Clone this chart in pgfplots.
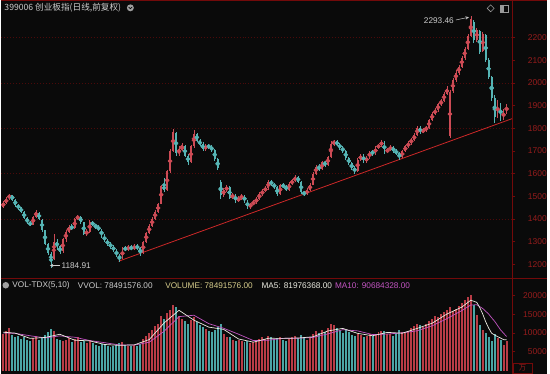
\documentclass[border=0pt]{standalone}
\usepackage{fontspec}
\setmainfont{Liberation Sans}
\newfontfamily\cjk{Noto Sans CJK SC}
\usepackage{pgfplots}
\usepackage{pgfplotstable}
\pgfplotsset{compat=1.18}
\definecolor{bg}{RGB}{10,10,10}
\definecolor{frame}{RGB}{115,10,10}
\definecolor{axred}{RGB}{150,28,28}
\definecolor{gridred}{RGB}{75,10,10}
\definecolor{upc}{RGB}{205,75,85}
\definecolor{dnc}{RGB}{85,180,180}
\definecolor{vupc}{RGB}{185,60,70}
\definecolor{vdnc}{RGB}{75,165,165}
\definecolor{trend}{RGB}{205,40,40}
\definecolor{txt}{RGB}{205,205,205}
\definecolor{volc}{RGB}{215,205,140}
\definecolor{ma5c}{RGB}{235,235,225}
\definecolor{ma10c}{RGB}{195,85,195}

\pgfplotstableread{
i o h l c v
0 1455 1478 1450 1470 9800
1 1470 1495 1465 1490 10500
2 1492 1512 1485 1505 11200
3 1505 1508 1480 1485 9500
4 1485 1490 1455 1460 8800
5 1460 1468 1442 1450 9200
6 1452 1455 1425 1430 8500
7 1430 1435 1400 1405 9000
8 1405 1410 1378 1385 8200
9 1383 1392 1368 1375 7900
10 1375 1415 1372 1410 8600
11 1410 1440 1405 1430 9100
12 1428 1432 1395 1400 8000
13 1398 1402 1345 1350 8800
14 1350 1352 1285 1290 9500
15 1290 1295 1240 1250 10200
16 1248 1255 1185 1215 11000
17 1225 1335 1220 1300 10400
18 1300 1310 1265 1280 8500
19 1280 1285 1245 1255 8200
20 1258 1315 1252 1310 7800
21 1310 1350 1300 1345 8200
22 1345 1372 1338 1365 8600
23 1365 1378 1350 1360 7500
24 1360 1405 1355 1400 8300
25 1400 1420 1395 1410 8900
26 1410 1415 1380 1385 7600
27 1385 1388 1328 1335 7800
28 1335 1355 1325 1345 7200
29 1345 1395 1340 1385 8000
30 1385 1392 1368 1375 7400
31 1375 1380 1355 1365 6900
32 1365 1372 1348 1355 6600
33 1355 1358 1318 1325 7000
34 1325 1332 1300 1305 6800
35 1305 1312 1282 1290 6500
36 1290 1298 1270 1280 6300
37 1280 1285 1255 1262 6600
38 1262 1268 1232 1240 6900
39 1240 1245 1212 1225 7200
40 1225 1278 1222 1272 7500
41 1272 1282 1258 1265 6800
42 1265 1285 1260 1278 6400
43 1278 1284 1262 1268 6600
44 1268 1290 1262 1282 6900
45 1282 1288 1265 1272 6500
46 1272 1276 1238 1250 7000
47 1250 1305 1248 1300 8400
48 1300 1345 1295 1338 9200
49 1338 1378 1332 1370 10100
50 1370 1408 1365 1402 10800
51 1402 1440 1395 1432 11800
52 1432 1470 1428 1465 12500
53 1468 1552 1465 1545 14500
54 1545 1580 1520 1530 13800
55 1530 1618 1525 1610 15200
56 1610 1708 1605 1700 16200
57 1700 1795 1695 1785 17500
58 1780 1785 1680 1690 16800
59 1690 1720 1680 1705 14500
60 1705 1735 1700 1720 13800
61 1720 1725 1672 1680 13200
62 1680 1688 1640 1650 12400
63 1650 1728 1645 1720 13500
64 1720 1792 1715 1775 14200
65 1775 1780 1738 1745 12800
66 1745 1752 1720 1730 12000
67 1730 1738 1700 1710 11500
68 1710 1730 1702 1722 11000
69 1722 1732 1708 1718 10500
70 1718 1725 1695 1705 10200
71 1705 1710 1655 1665 10800
72 1665 1670 1615 1625 11500
73 1565 1570 1490 1505 12500
74 1505 1538 1498 1530 9800
75 1530 1548 1520 1540 9000
76 1540 1545 1488 1495 8800
77 1495 1515 1488 1505 8200
78 1505 1510 1472 1480 7900
79 1480 1500 1475 1492 8100
80 1492 1510 1485 1500 7800
81 1500 1505 1472 1480 7500
82 1480 1485 1445 1452 7800
83 1452 1472 1445 1466 7200
84 1466 1482 1460 1475 7500
85 1475 1496 1468 1490 8000
86 1490 1518 1485 1510 8400
87 1510 1532 1500 1525 8800
88 1525 1545 1518 1535 8500
89 1535 1572 1530 1565 9200
90 1565 1572 1545 1555 8900
91 1555 1560 1532 1540 8300
92 1540 1545 1502 1510 8600
93 1510 1556 1505 1550 8800
94 1550 1558 1535 1545 8200
95 1545 1550 1522 1530 7900
96 1530 1562 1525 1555 8500
97 1555 1578 1548 1570 8900
98 1570 1592 1562 1585 9300
99 1585 1590 1558 1565 8700
100 1565 1568 1510 1518 9400
101 1518 1525 1500 1510 8600
102 1510 1535 1505 1528 8200
103 1528 1558 1522 1552 8900
104 1552 1606 1548 1600 9800
105 1600 1638 1595 1630 10500
106 1630 1642 1612 1620 10000
107 1620 1656 1615 1650 10800
108 1650 1658 1630 1640 10200
109 1640 1680 1635 1672 11200
110 1672 1745 1668 1730 12400
111 1730 1750 1722 1742 12000
112 1742 1748 1720 1728 11200
113 1728 1735 1705 1715 10500
114 1715 1722 1690 1700 10000
115 1700 1705 1660 1668 10800
116 1668 1675 1638 1645 10200
117 1645 1650 1615 1625 9500
118 1625 1632 1600 1612 9200
119 1612 1668 1608 1662 9800
120 1662 1688 1655 1680 9500
121 1680 1685 1648 1655 8800
122 1655 1678 1648 1670 9100
123 1670 1702 1665 1695 9600
124 1695 1705 1680 1688 9300
125 1688 1722 1682 1715 9800
126 1715 1732 1708 1725 10200
127 1725 1748 1718 1740 10600
128 1740 1745 1688 1695 10400
129 1695 1715 1690 1706 9800
130 1706 1725 1700 1716 9600
131 1716 1722 1692 1700 9200
132 1700 1708 1682 1690 9900
133 1690 1695 1662 1672 10800
134 1672 1706 1668 1700 10200
135 1700 1726 1695 1720 10000
136 1720 1742 1712 1735 10600
137 1735 1758 1728 1750 11200
138 1750 1778 1742 1770 11800
139 1770 1810 1765 1802 12500
140 1802 1808 1775 1785 12000
141 1785 1800 1778 1792 11600
142 1792 1812 1785 1802 12400
143 1802 1842 1798 1836 13200
144 1836 1872 1830 1865 13800
145 1865 1888 1858 1880 14500
146 1880 1912 1872 1905 14200
147 1905 1930 1898 1920 15000
148 1920 1960 1915 1952 15600
149 1952 1985 1945 1975 16000
150 1765 1968 1758 1960 17000
151 1962 2020 1955 2012 15800
152 2012 2055 2005 2045 16500
153 2045 2080 2035 2072 17200
154 2072 2118 2065 2110 18000
155 2110 2160 2100 2150 18800
156 2150 2215 2145 2205 19500
157 2205 2293 2200 2280 20200
158 2270 2278 2175 2190 17500
159 2190 2242 2180 2232 14800
160 2230 2235 2125 2135 12000
161 2140 2222 2135 2215 10800
162 2210 2215 2090 2100 9900
163 2100 2110 2015 2025 9000
164 2025 2030 1920 1935 7990
165 1935 1945 1825 1850 9600
166 1855 1925 1845 1910 8700
167 1905 1912 1830 1842 8000
168 1842 1885 1835 1875 6840
169 1875 1905 1865 1895 7849
}\candles

\pgfplotstableread{
i m
0 10200
4 9960
9 8560
14 8800
19 9660
24 8080
29 7900
34 6940
39 6700
44 6840
49 8240
54 12680
59 16040
64 13420
69 11560
74 10960
79 8400
84 7560
89 8580
94 8560
99 8660
104 8980
109 10540
114 11220
119 9900
124 9260
129 10160
134 9940
139 11220
144 12600
149 15060
154 16900
157 18740
159 18160
160 16800
161 15060
162 13000
163 11300
164 9938
165 9458
166 9038
167 8658
168 8226
169 8198
}\mafive

\pgfplotstableread{
i m
0 10000
4 9900
9 9260
14 8680
19 9230
24 8870
29 7990
34 7420
39 6820
44 6770
49 7540
54 10460
59 14360
64 14730
69 12490
74 11260
79 9680
84 7980
89 8070
94 8570
99 8610
104 8820
109 9760
114 10880
119 10560
124 9580
129 9710
134 10050
139 10580
144 11910
149 13830
154 15980
157 17460
159 17530
161 16530
163 15050
164 14049
165 13129
167 10829
169 9068
}\maten

\pgfplotsset{
  chartaxis/.style={
    scale only axis, anchor=south west,
    width=515pt, xmin=-0.667, xmax=171,
    axis line style={draw=none}, xtick=\empty,
    ytick pos=right, yticklabel pos=right,
    tick align=outside, major tick length=3pt,
    ytick style={draw=frame, line width=0.6pt},
    yticklabel style={font=\fontsize{8.5}{10}\selectfont, text=axred, anchor=east, xshift=35pt},
    scaled y ticks=false,
    /pgf/number format/1000 sep={},
    /pgf/number format/assume math mode=true,
    clip=false,
  },
  upsel/.style={restrict expr to domain={\thisrow{c}-\thisrow{o}}{0:5000}},
  dnsel/.style={restrict expr to domain={\thisrow{c}-\thisrow{o}}{-5000:-0.01}},
}

\begin{document}
\begin{tikzpicture}[x=1pt,y=1pt]
\fill[bg] (0pt,0pt) rectangle (550pt,376pt);

% price panel
\begin{axis}[chartaxis, at={(0pt,96pt)}, height=279pt, ymin=1139, ymax=2359,
  ytick={1200,1300,...,2200}]
\pgfplotsinvokeforeach{1400,1600,1800,2000,2200}{
  \draw[gridred, dash pattern=on 1pt off 2pt, line width=0.5pt] (axis cs:-0.667,#1) -- (axis cs:171,#1);
}
\addplot[trend, line width=0.8pt] coordinates {(38.67,1214) (171,1843)};
% wicks
\addplot[upc, only marks, mark=none, upsel, error bars/.cd, y dir=both, y explicit, error mark=none,
  error bar style={draw=upc, line width=0.6pt}]
  table[x=i, y expr={(\thisrow{h}+\thisrow{l})/2}, y error expr={(\thisrow{h}-\thisrow{l})/2}] {\candles};
\addplot[dnc, only marks, mark=none, dnsel, error bars/.cd, y dir=both, y explicit, error mark=none,
  error bar style={draw=dnc, line width=0.6pt}]
  table[x=i, y expr={(\thisrow{h}+\thisrow{l})/2}, y error expr={(\thisrow{h}-\thisrow{l})/2}] {\candles};
% bodies
\addplot[upc, only marks, mark=none, upsel, error bars/.cd, y dir=both, y explicit, error mark=none,
  error bar style={draw=upc, line width=1.8pt}]
  table[x=i, y expr={(\thisrow{o}+\thisrow{c})/2}, y error expr={abs(\thisrow{c}-\thisrow{o})/2}] {\candles};
\addplot[dnc, only marks, mark=none, dnsel, error bars/.cd, y dir=both, y explicit, error mark=none,
  error bar style={draw=dnc, line width=1.8pt}]
  table[x=i, y expr={(\thisrow{o}+\thisrow{c})/2}, y error expr={abs(\thisrow{c}-\thisrow{o})/2}] {\candles};
\end{axis}

% volume panel
\begin{axis}[chartaxis, at={(0pt,0pt)}, height=96pt, ymin=-820, ymax=24570,
  ytick={5000,10000,15000,20000}]
\addplot[ycomb, draw=vupc, line width=2pt, upsel] table[x=i, y=v] {\candles};
\addplot[ycomb, draw=vdnc, line width=2pt, dnsel] table[x=i, y=v] {\candles};
\addplot[ma10c, line width=0.7pt] table[x=i, y=m] {\maten};
\addplot[ma5c, line width=0.7pt] table[x=i, y=m] {\mafive};
\end{axis}

% frame lines
\draw[frame, line width=0.8pt] (0,375.6) -- (550,375.6);
\draw[frame, line width=0.8pt] (0,96) -- (550,96);
\draw[frame, line width=0.8pt] (515,0) -- (515,376);

% title
\node[anchor=west, inner sep=0, text=txt, font=\cjk\fontsize{8.7}{10}\selectfont] at (3,368.5) {399006 创业板指(日线,前复权)};
\fill[gray!75] (130,368.5) circle (3.5);
\draw[bg, line width=0.7pt] (128.3,369.3) -- (130,367.6) -- (131.7,369.3);
% top right icons
\draw[gray!80, line width=0.6pt] (493,371.5) -- (496.5,368) -- (493,364.5) -- (489.5,368) -- cycle;
\draw[gray!80, line width=0.6pt] (503,364.5) rectangle (511,371.5);
\fill[gray!80] (503,364.5) rectangle (506,371.5);

% annotations
\node[anchor=east, inner sep=0, text=txt, font=\fontsize{8.3}{10}\selectfont] at (456,356) {2293.46};
\draw[->, txt, line width=0.5pt, >=stealth] (458,356.3) -- (471,359);
\draw[->, txt, line width=0.5pt, >=stealth] (59,109) -- (49,109);
\node[anchor=west, inner sep=0, text=txt, font=\fontsize{8.3}{10}\selectfont] at (60.5,109) {1184.91};

% volume header
\fill[gray!75] (4.5,89) circle (3.3);
\begin{scope}[font=\fontsize{8.3}{10}\selectfont]
\node[anchor=west, inner sep=0, text=txt] at (11,89) {VOL-TDX(5,10)};
\node[anchor=west, inner sep=0, text=txt] at (77,89) {VVOL: 78491576.00};
\node[anchor=west, inner sep=0, text=volc] at (165,89) {VOLUME: 78491576.00};
\node[anchor=west, inner sep=0, text=ma5c] at (262,89) {MA5: 81976368.00};
\node[anchor=west, inner sep=0, text=ma10c] at (336,89) {MA10: 90684328.00};
\end{scope}
\node[draw=frame, text=axred, font=\cjk\fontsize{7.5}{8}\selectfont, inner sep=0.5pt, minimum width=19pt, minimum height=10pt, anchor=south west] at (515.5,0.4) {万};
\end{tikzpicture}
\end{document}
